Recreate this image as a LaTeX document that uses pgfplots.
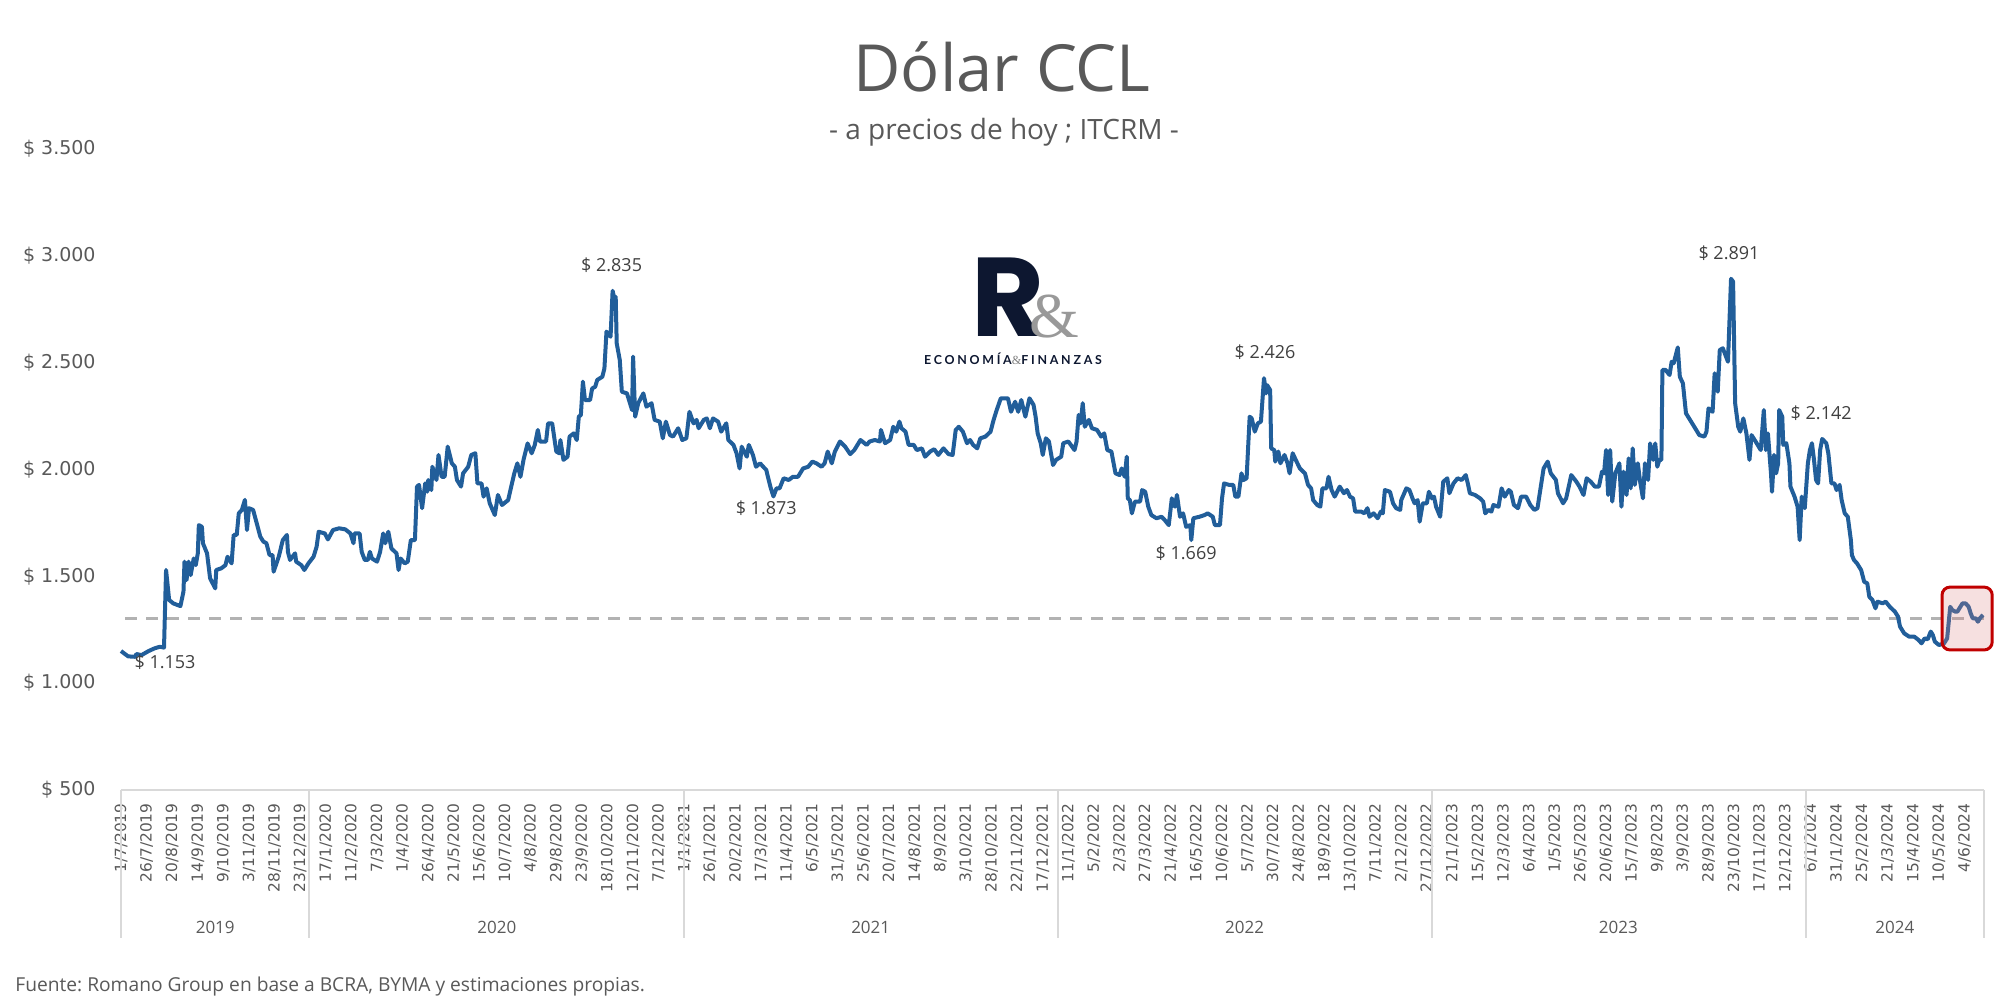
\documentclass[border=0pt]{standalone}
\usepackage{fontspec}
\setmainfont{Open Sans}
\newfontfamily\verd{DejaVu Sans}
\newfontfamily\logofont[LetterSpace=22]{Lato}
\newfontfamily\logoR{Poppins}
\newfontfamily\ampfont{Liberation Serif}
\usepackage{pgfplots}
\pgfplotsset{compat=1.18}
\frenchspacing

\definecolor{lineblue}{RGB}{33,94,154}
\definecolor{txt}{RGB}{89,89,89}
\definecolor{annot}{RGB}{64,64,64}
\definecolor{dashgrey}{RGB}{178,178,178}
\definecolor{axisgrey}{RGB}{217,217,217}
\definecolor{navy}{RGB}{13,23,48}
\definecolor{boxred}{RGB}{192,0,0}
\definecolor{boxfill}{RGB}{220,130,130}

\begin{document}
\begin{tikzpicture}
\useasboundingbox (0,0) rectangle (1004pt,-502pt);

% title block
\node[font=\fontsize{32.5}{36}\selectfont, text=txt] at (501pt,-33.5pt) {Dólar CCL};
\node[font=\fontsize{14}{16}\selectfont, text=txt] at (502pt,-66pt) {- a precios de hoy ; ITCRM -};

% logo
\node[anchor=base, font=\logoR\bfseries\fontsize{56}{56}\selectfont, text=navy, inner sep=0pt] at (504pt,-168.5pt) {R};
\node[anchor=base, font=\ampfont\fontsize{32}{32}\selectfont, text=gray!80, inner sep=0pt] at (527pt,-169pt) {\&};
\node[font=\logofont\bfseries\fontsize{6.2}{7}\selectfont, text=navy, inner sep=0pt] at (506.5pt,-179.5pt) {ECONOMÍA{\ampfont\mdseries\color{gray}\&}FINANZAS};

% footer
\node[anchor=west, font=\fontsize{9.6}{12}\selectfont, text=txt, inner sep=0pt] at (7.5pt,-493.5pt)
  {Fuente: Romano Group en base a BCRA, BYMA y estimaciones propias.};

\begin{axis}[
  at={(60.5pt,-395pt)}, anchor=south west,
  scale only axis, width=931.5pt, height=320.7pt,
  xmin=0, xmax=1819, ymin=500, ymax=3500,
  axis line style={draw=none},
  major tick length=0pt,
  clip=false,
  ytick={500,1000,...,3500},
  yticklabels={\$ 500,\$ 1.000,\$ 1.500,\$ 2.000,\$ 2.500,\$ 3.000,\$ 3.500},
  yticklabel style={font=\verd\fontsize{9.5}{10}\selectfont, text=txt, inner sep=0pt},
  yticklabel shift=12.5pt,
  xtick={0,25,...,1800},
  xticklabels={1/7/2019,26/7/2019,20/8/2019,14/9/2019,9/10/2019,3/11/2019,28/11/2019,23/12/2019,
    17/1/2020,11/2/2020,7/3/2020,1/4/2020,26/4/2020,21/5/2020,15/6/2020,10/7/2020,4/8/2020,29/8/2020,23/9/2020,18/10/2020,12/11/2020,7/12/2020,
    1/1/2021,26/1/2021,20/2/2021,17/3/2021,11/4/2021,6/5/2021,31/5/2021,25/6/2021,20/7/2021,14/8/2021,8/9/2021,3/10/2021,28/10/2021,22/11/2021,17/12/2021,
    11/1/2022,5/2/2022,2/3/2022,27/3/2022,21/4/2022,16/5/2022,10/6/2022,5/7/2022,30/7/2022,24/8/2022,18/9/2022,13/10/2022,7/11/2022,2/12/2022,27/12/2022,
    21/1/2023,15/2/2023,12/3/2023,6/4/2023,1/5/2023,26/5/2023,20/6/2023,15/7/2023,9/8/2023,3/9/2023,28/9/2023,23/10/2023,17/11/2023,12/12/2023,
    6/1/2024,31/1/2024,25/2/2024,21/3/2024,15/4/2024,10/5/2024,4/6/2024},
  xticklabel style={rotate=90, anchor=east, font=\verd\fontsize{7.7}{8}\selectfont, text=txt, inner sep=0pt},
  xticklabel shift=6.5pt,
]

% reference level
\addplot[dashgrey, line width=1.5pt, dash pattern=on 6pt off 4.5pt] coordinates {(4,1300) (1819,1300)};

% CCL series
\addplot[lineblue, line width=2pt, line join=round] coordinates {
(0,1150)(7,1125)(14,1123)(15,1136)(20,1131)(27,1150)(33,1163)(38,1170)(42,1166)(44,1529)(47,1389)(51,1373)(58,1360)(61,1428)(62,1568)(64,1482)(66,1568)(68,1505)(71,1583)(73,1552)(75,1607)(76,1739)(79,1731)(80,1654)(84,1607)(87,1490)(92,1443)(93,1529)(98,1537)(102,1552)(104,1591)(108,1560)(110,1693)(113,1693)(115,1794)(118,1810)(121,1857)(123,1716)(125,1818)(129,1810)(133,1739)(136,1685)(139,1662)(142,1654)(145,1599)(148,1599)(149,1521)(154,1591)(158,1669)(162,1693)(163,1614)(165,1576)(170,1607)(171,1568)(176,1552)(179,1529)(183,1560)(188,1591)(191,1638)(193,1708)(199,1700)(202,1672)(207,1716)(213,1724)(219,1719)(224,1700)(227,1654)(228,1700)(233,1700)(235,1614)(238,1576)(241,1576)(243,1614)(245,1583)(250,1568)(253,1614)(256,1700)(258,1654)(261,1708)(264,1630)(269,1607)(271,1529)(273,1583)(277,1560)(280,1568)(283,1669)(287,1669)(289,1919)(291,1927)(294,1818)(297,1934)(299,1895)
(300,1950)(303,1903)(304,2012)(308,1950)(310,2067)(313,1965)(316,1965)(319,2106)(323,2028)(326,2012)(328,1950)(332,1919)(334,1981)(339,2012)(342,2067)(346,2075)(348,1934)(352,1934)(354,1872)(357,1911)(360,1841)(365,1786)(368,1880)(372,1833)(378,1856)(381,1919)(384,1981)(387,2028)(390,1965)(393,2044)(397,2121)(401,2075)(404,2114)(407,2184)(409,2130)(415,2130)(417,2215)(421,2215)(425,2083)(428,2075)(429,2137)(432,2044)(436,2059)(438,2153)(442,2168)(445,2137)(447,2246)(449,2254)(451,2410)(453,2324)(458,2324)(460,2378)(463,2386)(465,2418)(470,2433)(472,2472)(474,2644)(478,2620)(480,2835)(482,2792)(483,2807)(484,2589)(487,2511)(489,2363)(494,2355)(496,2324)(499,2277)(500,2527)(502,2246)(505,2309)(510,2355)(513,2293)(518,2309)(521,2231)(526,2223)(529,2145)(532,2223)(536,2160)(539,2153)(544,2192)(548,2137)(552,2145)(555,2269)(559,2215)(562,2231)(564,2192)(569,2231)(572,2238)(575,2192)(578,2238)(583,2223)(586,2176)(591,2215)(593,2137)(598,2114)
(601,2075)(604,2004)(606,2106)(611,2059)(613,2114)(617,2067)(620,2012)(624,2028)(627,2012)(630,1997)(634,1919)(637,1873)(640,1911)(643,1911)(647,1958)(652,1950)(656,1965)(661,1965)(666,2004)(671,2012)(675,2036)(679,2028)(684,2012)(687,2028)(690,2083)(694,2028)(697,2083)(702,2130)(707,2106)(712,2071)(716,2090)(722,2137)(728,2114)(731,2130)(736,2137)(741,2130)(742,2184)(746,2122)(751,2137)(754,2199)(757,2176)(760,2223)(762,2192)(766,2176)(769,2114)(774,2114)(777,2090)(782,2098)(785,2059)(790,2083)(794,2094)(798,2067)(803,2098)(808,2071)(812,2067)(815,2184)(818,2199)(822,2176)(826,2122)(829,2137)(832,2114)(836,2098)(839,2145)(844,2153)(849,2176)(852,2231)(855,2277)(859,2332)(866,2332)(869,2269)(873,2316)(876,2269)(879,2324)(883,2246)(887,2332)(891,2301)(893,2246)(895,2168)(898,2122)(900,2067)(903,2145)
(906,2130)(910,2020)(913,2044)(918,2059)(920,2122)(925,2130)(931,2090)(933,2130)(935,2254)(937,2215)(939,2309)(941,2199)(945,2231)(948,2192)(953,2184)(957,2153)(960,2168)(963,2090)(967,2083)(971,1981)(975,1973)(977,2004)(980,1965)(982,2059)(983,1864)(985,1856)(987,1794)(990,1849)(995,1849)(997,1903)(1000,1895)(1003,1825)(1006,1786)(1011,1771)(1016,1778)(1019,1763)(1023,1739)(1026,1864)(1029,1825)(1031,1880)(1034,1778)(1037,1794)(1040,1731)(1044,1739)(1045,1669)(1047,1771)(1053,1778)(1058,1786)(1061,1794)(1066,1778)(1068,1739)(1073,1739)(1075,1864)(1077,1934)(1082,1927)(1086,1927)(1088,1872)(1091,1872)(1094,1981)(1096,1950)(1099,1958)(1102,2246)(1104,2238)(1107,2176)(1110,2215)(1113,2223)(1116,2426)(1118,2355)(1119,2394)(1122,2371)(1123,2098)(1126,2090)(1127,2036)(1130,2083)(1132,2028)(1136,2067)(1139,2028)(1141,1981)(1144,2075)(1147,2044)(1151,2004)(1156,1981)(1159,1927)(1162,1911)(1164,1856)(1168,1833)(1171,1825)(1173,1911)(1177,1911)(1179,1965)(1182,1903)(1185,1872)(1190,1919)(1194,1888)(1197,1903)(1200,1872)(1203,1864)(1205,1802)
(1206,1802)(1211,1802)(1214,1794)(1217,1818)(1219,1778)(1223,1794)(1227,1771)(1230,1802)(1232,1794)(1234,1903)(1239,1895)(1242,1841)(1245,1818)(1249,1810)(1250,1856)(1255,1911)(1258,1903)(1261,1864)(1263,1841)(1266,1856)(1268,1755)(1271,1841)(1275,1841)(1277,1895)(1280,1864)(1282,1872)(1284,1825)(1288,1778)(1291,1942)(1295,1958)(1297,1888)(1301,1934)(1305,1958)(1309,1950)(1313,1973)(1315,1934)(1317,1888)(1322,1880)(1327,1864)(1330,1849)(1332,1794)(1335,1810)(1338,1802)(1340,1833)(1345,1825)(1348,1911)(1351,1872)(1355,1903)(1357,1895)(1360,1833)(1364,1818)(1367,1872)(1372,1872)(1376,1833)(1380,1810)(1383,1818)(1386,1911)(1389,2004)(1393,2036)(1396,1981)(1401,1950)(1403,1888)(1408,1841)(1411,1864)(1416,1973)(1421,1942)(1424,1919)(1428,1880)(1431,1958)(1435,1942)(1439,1919)(1443,1919)(1446,1989)(1448,1981)(1450,2090)(1452,1880)(1454,2090)(1456,1849)(1459,1981)(1463,2028)(1465,1825)(1467,1989)(1470,1880)(1472,2051)(1474,1911)(1476,2098)(1478,1927)(1481,2028)(1483,1950)(1486,1864)(1488,2028)(1491,1950)(1493,2121)(1496,2044)(1498,2121)(1500,2012)(1502,2044)(1504,2044)(1505,2465)(1508,2465)(1512,2441)(1514,2503)
(1516,2496)(1520,2570)(1522,2433)(1525,2402)(1528,2262)(1533,2223)(1538,2184)(1541,2160)(1546,2153)(1548,2176)(1550,2285)(1554,2269)(1556,2449)(1559,2363)(1561,2558)(1564,2566)(1569,2503)(1572,2891)(1574,2878)(1576,2309)(1579,2199)(1581,2176)(1584,2238)(1587,2168)(1590,2044)(1592,2160)(1596,2130)(1601,2090)(1604,2277)(1606,2090)(1608,2168)(1611,1981)(1612,1895)(1614,2067)(1616,1981)(1618,2028)(1619,2277)(1622,2246)(1623,2114)(1626,2122)(1629,2028)(1630,1919)(1634,1872)(1637,1825)(1639,1669)(1641,1872)(1644,1818)(1647,2028)(1649,2090)(1651,2122)(1653,2044)(1655,1950)(1657,1934)(1659,2090)(1661,2142)(1665,2122)(1667,2075)(1670,1934)(1673,1934)(1675,1903)(1678,1927)(1680,1856)(1683,1794)(1686,1778)(1689,1669)(1690,1599)(1692,1576)(1695,1560)(1699,1529)(1702,1474)(1705,1467)(1707,1404)(1710,1389)(1713,1350)(1715,1381)(1720,1373)(1723,1381)(1727,1357)(1732,1334)(1735,1311)(1737,1264)(1741,1233)(1746,1217)(1751,1217)(1755,1202)(1758,1186)(1761,1209)(1764,1205)(1767,1241)(1769,1225)(1771,1194)(1775,1178)(1780,1186)(1783,1209)(1786,1357)(1788,1342)(1791,1334)(1793,1334)(1795,1350)(1798,1373)(1801,1373)(1804,1357)(1806,1326)(1808,1303)(1811,1303)(1813,1287)(1815,1303)(1818,1319)
};

% highlight box on the latest values
\draw[boxred, line width=1.5pt, rounded corners=4pt, fill=boxfill, fill opacity=0.25]
  (axis cs:1778,1155) rectangle (axis cs:1827,1449);

% value annotations
\begin{scope}[every node/.style={font=\fontsize{9}{10}\selectfont, text=annot}]
\node at (axis cs:43,1099) {\$ 1.153};
\node at (axis cs:479,2956) {\$ 2.835};
\node at (axis cs:630,1819) {\$ 1.873};
\node at (axis cs:1040,1608) {\$ 1.669};
\node at (axis cs:1117,2549) {\$ 2.426};
\node at (axis cs:1570,3012) {\$ 2.891};
\node at (axis cs:1660,2263) {\$ 2.142};
\end{scope}

% x axis line, year separators and year labels
\draw[axisgrey, line width=1pt] (axis cs:0,500) -- (axis cs:1819,500);
\pgfplotsinvokeforeach{0,184,550,915,1280,1645,1819}{
  \draw[axisgrey, line width=1pt] (axis cs:#1,500) -- ([yshift=-74pt]axis cs:#1,500);
}
\begin{scope}[every node/.style={font=\fontsize{8.5}{10}\selectfont, text=txt, yshift=-68.5pt}]
\node at (axis cs:92,500) {2019};
\node at (axis cs:367,500) {2020};
\node at (axis cs:732,500) {2021};
\node at (axis cs:1097,500) {2022};
\node at (axis cs:1462,500) {2023};
\node at (axis cs:1732,500) {2024};
\end{scope}
\end{axis}
\end{tikzpicture}
\end{document}
